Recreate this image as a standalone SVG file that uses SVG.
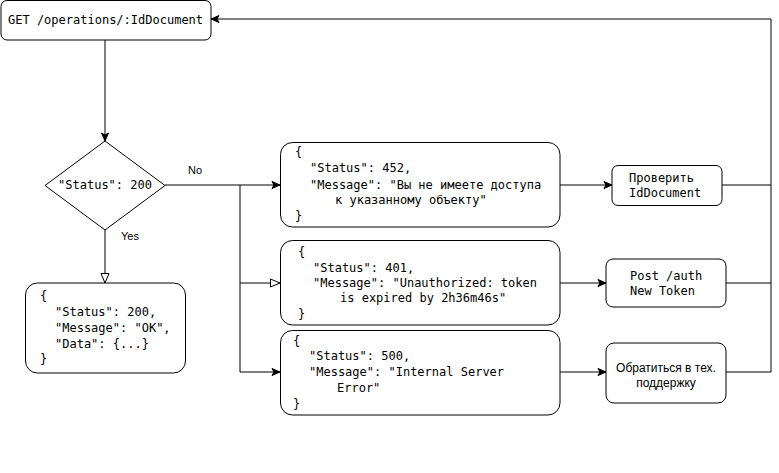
<svg xmlns="http://www.w3.org/2000/svg" width="779" height="473" viewBox="0 0 779 473">
<style>
.box{fill:#fff;stroke:#000;stroke-width:1}
.m{font-family:"DejaVu Sans Mono","Liberation Mono",monospace;font-size:12px;fill:#000}
.s{font-family:"Liberation Sans","DejaVu Sans",Arial,sans-serif;font-size:11px;fill:#000}
.s12{font-family:"Liberation Sans","DejaVu Sans",Arial,sans-serif;font-size:12px;fill:#000}
.c{fill:none;stroke:#000;stroke-width:1}
</style>
<defs>
<marker id="af" markerUnits="userSpaceOnUse" markerWidth="10" markerHeight="10" refX="9" refY="5" orient="auto" viewBox="0 0 10 10">
<path d="M1,1.5 L9,5 L1,8.5 L3,5 Z" fill="#000" stroke="#000" stroke-width="1"/>
</marker>
<marker id="ah" markerUnits="userSpaceOnUse" markerWidth="12" markerHeight="12" refX="10.5" refY="6" orient="auto" viewBox="0 0 12 12">
<path d="M1,2 L10.5,6 L1,10 Z" fill="#fff" stroke="#000" stroke-width="1"/>
</marker>
</defs>
<rect width="779" height="473" fill="#fff"/>
<g id="connectors">
<path class="c" d="M105,40 V141" marker-end="url(#af)"/>
<path class="c" d="M105,230 V283" marker-end="url(#ah)"/>
<path class="c" d="M165,185 H280" marker-end="url(#af)"/>
<path class="c" d="M240,185 V372 H280" marker-end="url(#af)"/>
<path class="c" d="M240,283 H280" marker-end="url(#ah)"/>
<path class="c" d="M560,185 H612" marker-end="url(#af)"/>
<path class="c" d="M560,283 H606" marker-end="url(#af)"/>
<path class="c" d="M560,372 H606" marker-end="url(#af)"/>
<path class="c" d="M722,185 H771"/>
<path class="c" d="M726,283 H771"/>
<path class="c" d="M726,372 H771 V19 H211" marker-end="url(#af)"/>
<text class="s" x="188" y="174">No</text>
<text class="s" x="121" y="240">Yes</text>
</g>
<g id="get">
<rect class="box" x="1" y="0.5" width="210" height="39.5" rx="6"/>
<text class="m" x="8" y="24">GET /operations/:IdDocument</text>
</g>
<g id="decision">
<path class="box" d="M105,141 L165,185.5 L105,230 L45,185.5 Z"/>
<text class="m" x="105" y="189" text-anchor="middle">"Status": 200</text>
</g>
<g id="ok">
<rect class="box" x="25.5" y="283" width="160" height="90" rx="12"/>
<text class="m" x="40" y="300">{</text>
<text class="m" x="55" y="316">"Status": 200,</text>
<text class="m" x="55" y="332">"Message": "OK",</text>
<text class="m" x="55" y="348">"Data": {...}</text>
<text class="m" x="40" y="363">}</text>
</g>
<g id="e452">
<rect class="box" x="280.5" y="142.5" width="279.5" height="84.5" rx="12"/>
<text class="m" x="295" y="156">{</text>
<text class="m" x="310" y="172">"Status": 452,</text>
<text class="m" x="310" y="189">"Message": "Вы не имеете доступа</text>
<text class="m" x="335" y="204">к указанному объекту"</text>
<text class="m" x="295" y="220">}</text>
</g>
<g id="e401">
<rect class="box" x="280.5" y="240.5" width="279.5" height="84.5" rx="12"/>
<text class="m" x="298" y="256">{</text>
<text class="m" x="313" y="272">"Status": 401,</text>
<text class="m" x="313" y="287">"Message": "Unauthorized: token</text>
<text class="m" x="340" y="302">is expired by 2h36m46s"</text>
<text class="m" x="298" y="318">}</text>
</g>
<g id="e500">
<rect class="box" x="280.5" y="330.5" width="279.5" height="84.5" rx="12"/>
<text class="m" x="293" y="345">{</text>
<text class="m" x="309" y="360">"Status": 500,</text>
<text class="m" x="309" y="376">"Message": "Internal Server</text>
<text class="m" x="337" y="392">Error"</text>
<text class="m" x="293" y="408">}</text>
</g>
<g id="check">
<rect class="box" x="612" y="165.5" width="110" height="40" rx="6"/>
<text class="m" x="629" y="182">Проверить</text>
<text class="m" x="629" y="197">IdDocument</text>
</g>
<g id="post">
<rect class="box" x="606" y="259" width="120" height="48" rx="7"/>
<text class="m" x="630" y="280">Post /auth</text>
<text class="m" x="630" y="295">New Token</text>
</g>
<g id="support">
<rect class="box" x="606" y="343" width="120" height="60" rx="8"/>
<text class="s12" x="666" y="372" text-anchor="middle">Обратиться в тех.</text>
<text class="s12" x="666" y="387" text-anchor="middle">поддержку</text>
</g>
</svg>
